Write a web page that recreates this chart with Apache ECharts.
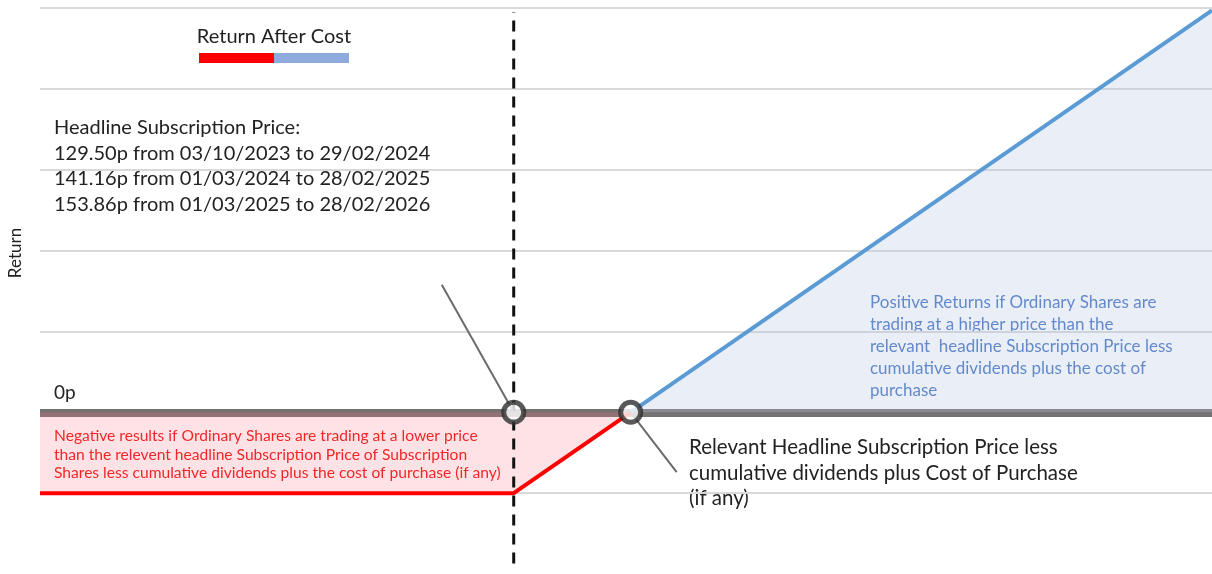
<!DOCTYPE html>
<html>
<head>
<meta charset="utf-8">
<script src="https://cdn.jsdelivr.net/npm/echarts@6/dist/echarts.min.js"></script>
<style>
  html, body { margin: 0; padding: 0; background: #fff; }
  #chart { width: 1212px; height: 574px; }
</style>
</head>
<body>
<div id="chart"></div>
<script>
// payoff shape (x = share price units, y = return units)
const negativeLine = [[-0.05, -1], [4, -1], [5, 0]]
const positiveLine = [[5, 0], [9.97, 4.97]]
const dashedLine = [[4, -1.87], [4, 4.95]]
const breakPoints = [[4, 0], [5, 0]]
const pointerA = [[3.385, 1.576], [4, 0]]
const pointerB = [[5, 0], [5.393, -0.739]]

const headlineText = [
  'Headline Subscription Price:',
  '129.50p from 03/10/2023 to 29/02/2024',
  '141.16p from 01/03/2024 to 28/02/2025',
  '153.86p from 01/03/2025 to 28/02/2026'
]
const negativeText = [
  'Negative results if Ordinary Shares are trading at a lower price',
  'than the relevent headline Subscription Price of Subscription',
  'Shares less cumulative dividends plus the cost of purchase (if any)'
]
const positiveText = [
  'Positive Returns if Ordinary Shares are',
  'trading at a higher price than the',
  'relevant  headline Subscription Price less',
  'cumulative dividends plus the cost of',
  'purchase'
]
const relevantText = [
  'Relevant Headline Subscription Price less',
  'cumulative dividends plus Cost of Purchase',
  '(if any)'
]

const font = 'Lato, "Open Sans", sans-serif'
const chart = echarts.init(document.getElementById('chart'))

const option = {
  animation: false,
  grid: { left: 40, right: 0, top: 8, bottom: 0 },
  xAxis: {
    type: 'value',
    min: -0.05,
    max: 9.97,
    axisLine: { show: true, onZero: true, lineStyle: { color: '#767171', width: 8, cap: 'butt' } },
    axisTick: { show: false },
    axisLabel: { show: false },
    splitLine: { show: false }
  },
  yAxis: {
    type: 'value',
    min: -2,
    max: 5,
    interval: 1,
    axisLine: { show: false },
    axisTick: { show: false },
    axisLabel: { show: false },
    splitLine: { showMinLine: false, lineStyle: { color: '#d9d9d9', width: 2 } }
  },
  series: [
    {
      type: 'line',
      data: negativeLine,
      symbol: 'none',
      lineStyle: { color: '#ff0000', width: 4 },
      areaStyle: { color: 'rgba(255, 120, 130, 0.3)', origin: 0 },
      z: 3
    },
    {
      type: 'line',
      data: positiveLine,
      symbol: 'none',
      lineStyle: { color: '#5b9bd5', width: 4 },
      areaStyle: { color: 'rgba(180, 196, 228, 0.4)', origin: 0 },
      z: 3
    },
    {
      type: 'line',
      data: dashedLine,
      symbol: 'none',
      lineStyle: { color: '#111', width: 3, type: [11, 8] },
      z: 4
    },
    {
      type: 'line',
      data: pointerA,
      symbol: 'none',
      lineStyle: { color: '#6b6b6b', width: 2 },
      z: 4
    },
    {
      type: 'line',
      data: pointerB,
      symbol: 'none',
      lineStyle: { color: '#6b6b6b', width: 2 },
      z: 4
    },
    {
      type: 'scatter',
      data: breakPoints,
      symbol: 'circle',
      symbolSize: 20,
      itemStyle: { color: '#fff', borderColor: '#2e2e2e', borderWidth: 5 },
      z: 6
    }
  ],
  graphic: [
    {
      type: 'text', x: 16, y: 253, rotation: Math.PI / 2,
      style: { text: 'Return', font: '17px ' + font, fill: '#222', align: 'center', verticalAlign: 'middle' }
    },
    {
      type: 'text', x: 274, y: 37,
      style: { text: 'Return After Cost', font: '20px ' + font, fill: '#222', align: 'center', verticalAlign: 'middle' }
    },
    { type: 'rect', shape: { x: 199, y: 53, width: 75, height: 10 }, style: { fill: '#ff0000' } },
    { type: 'rect', shape: { x: 274, y: 53, width: 75, height: 10 }, style: { fill: '#8faadc' } },
    {
      type: 'text', x: 54, y: 115,
      style: { text: headlineText.join('\n'), font: '20px ' + font, lineHeight: 25.5, fill: '#222' }
    },
    {
      type: 'text', x: 54, y: 383,
      style: { text: '0p', font: '19px ' + font, fill: '#222' }
    },
    {
      type: 'text', x: 54, y: 427,
      style: { text: negativeText.join('\n'), font: '15.6px ' + font, lineHeight: 18.5, fill: '#ee1111' }
    },
    {
      type: 'text', x: 870, y: 292,
      style: { text: positiveText.join('\n'), font: '17px ' + font, lineHeight: 21.8, fill: '#4472c4' }
    },
    {
      type: 'text', x: 689, y: 435,
      style: { text: relevantText.join('\n'), font: '20.5px ' + font, lineHeight: 25.5, fill: '#222' }
    }
  ]
}

chart.setOption(option)
</script>
</body>
</html>
